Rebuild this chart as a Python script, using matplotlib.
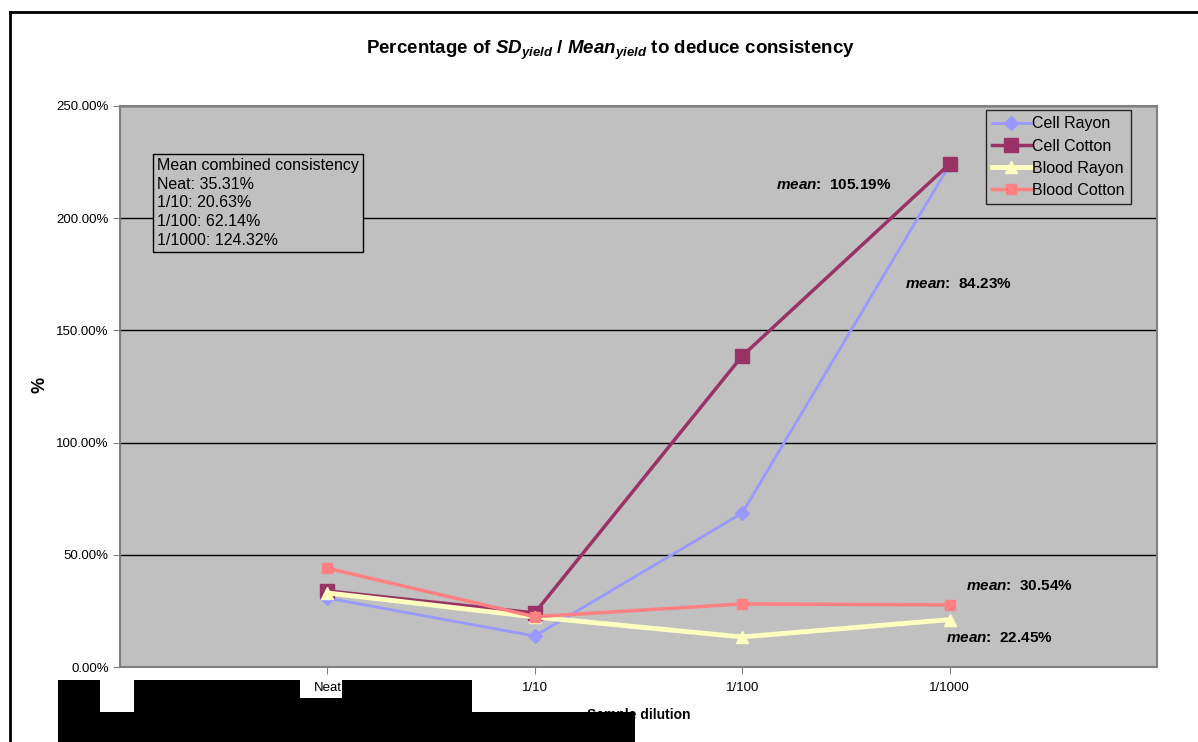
import matplotlib
matplotlib.use("Agg")
import matplotlib.pyplot as plt
from matplotlib.patches import Rectangle
from matplotlib.lines import Line2D
from matplotlib.ticker import FuncFormatter

plt.rcParams["font.family"] = ["Liberation Sans", "DejaVu Sans"]
plt.rcParams["mathtext.fontset"] = "custom"
plt.rcParams["mathtext.it"] = "Liberation Sans:italic:bold"
plt.rcParams["mathtext.rm"] = "Liberation Sans:bold"

# Данные
dilutions = ["Neat", "1/10", "1/100", "1/1000"]
cell_rayon = [30.7, 13.8, 68.6, 223.8]
cell_cotton = [33.9, 24.1, 138.6, 224.2]
blood_rayon = [33.0, 22.3, 13.4, 21.1]
blood_cotton = [44.0, 22.4, 28.1, 27.7]
mean_labels = ["105.19%", "84.23%", "30.54%", "22.45%"]
combined = ["Neat: 35.31%", "1/10: 20.63%", "1/100: 62.14%", "1/1000: 124.32%"]

W, H = 1198, 742
fig = plt.figure(figsize=(W / 100, H / 100), dpi=100)
ax = fig.add_axes([120 / W, 1 - 667 / H, (1157 - 120) / W, (667 - 106) / H])
ax.set_facecolor("#C0C0C0")

x = list(range(1, len(dilutions) + 1))
ax.plot(x, cell_rayon, color="#9999FF", lw=2, marker="D", ms=7, label="Cell Rayon", zorder=3)
ax.plot(x, cell_cotton, color="#993366", lw=2.5, marker="s", ms=10, label="Cell Cotton", zorder=4)
ax.plot(x, blood_rayon, color="#FFFFC0", lw=3.5, marker="^", ms=8, label="Blood Rayon", zorder=5)
ax.plot(x, blood_cotton, color="#FF8080", lw=2.5, marker="s", ms=7, label="Blood Cotton", zorder=6)

ax.set_xlim(0, 5)
ax.set_ylim(0, 250)
ax.set_xticks(x)
ax.set_xticklabels(dilutions, fontsize=9.5)
ax.set_yticks([0, 50, 100, 150, 200, 250])
ax.yaxis.set_major_formatter(FuncFormatter(lambda v, p: f"{v:.2f}%"))
ax.tick_params(axis="y", labelsize=9.5, length=5, color="#808080", pad=3)
ax.tick_params(axis="x", length=5, color="#808080", pad=6)
ax.grid(axis="y", color="black", lw=1)
ax.set_axisbelow(True)
for s in ax.spines.values():
    s.set_color("#808080")
    s.set_linewidth(1.5)

ax.set_xlabel("Sample dilution", fontsize=10, fontweight="bold", labelpad=10)
fig.text(40 / W, 1 - 385 / H, "%", fontsize=13, fontweight="bold",
         rotation=90, ha="center", va="center")

# подписи средних
mean_pos = [(3.44, 214.8), (4.04, 170.7), (4.335, 36.1), (4.24, 12.9)]
for (mx, my), lab in zip(mean_pos, mean_labels):
    ax.text(mx, my, r"$mean$:  " + lab, fontsize=11, fontweight="bold",
            ha="center", va="center", zorder=7)

ax.text(0.036, 0.907, "Mean combined consistency\n" + "\n".join(combined),
        transform=ax.transAxes, fontsize=11.5, va="top", ha="left", linespacing=1.3,
        bbox=dict(boxstyle="square,pad=0.25", fc="#C0C0C0", ec="black", lw=1), zorder=8)

leg = ax.legend(loc="upper right", bbox_to_anchor=((1131 - 120) / 1037, (667 - 110) / 561),
                fontsize=11.5, frameon=True, fancybox=False, handlelength=2.4,
                borderpad=0.4, labelspacing=0.45, handletextpad=0.1, borderaxespad=0)
leg.get_frame().set_facecolor("#C0C0C0")
leg.get_frame().set_edgecolor("black")
leg.get_frame().set_linewidth(1)

fig.text(610 / W, 1 - 50 / H,
         r"Percentage of $SD_{yield}$ / $Mean_{yield}$ to deduce consistency",
         fontsize=13.5, fontweight="bold", ha="center", va="center")

# рамка области диаграммы
fig.add_artist(Line2D([10 / W, 1.01], [1 - 12 / H, 1 - 12 / H], color="black", lw=2))
fig.add_artist(Line2D([10 / W, 10 / W], [1 - 12 / H, -0.01], color="black", lw=2))

# чёрные плашки внизу
blocks = [(58, 680, 100, 742), (100, 712, 134, 742), (134, 680, 300, 742),
          (300, 698, 342, 742), (342, 680, 472, 742), (472, 712, 635, 742)]
for x0, y0, x1, y1 in blocks:
    fig.add_artist(Rectangle((x0 / W, 1 - y1 / H), (x1 - x0) / W, (y1 - y0) / H,
                             transform=fig.transFigure, color="black", lw=0, zorder=10))

plt.savefig("out.png", dpi=100)
plt.close()
